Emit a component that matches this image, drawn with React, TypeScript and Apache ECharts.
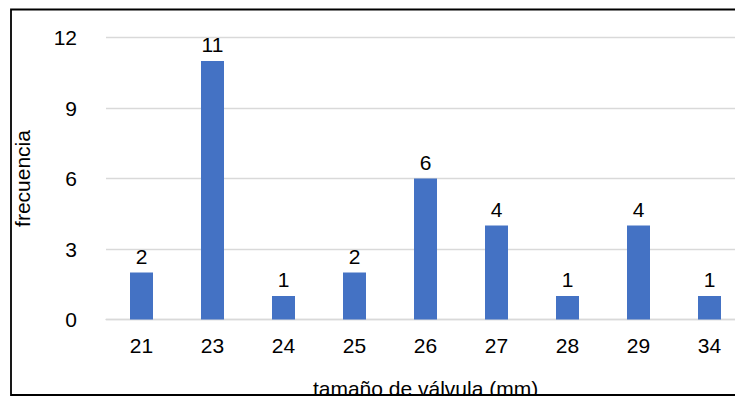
import React, { useEffect, useRef } from "react";
import * as echarts from "echarts";

const categories: string[] = ["21", "23", "24", "25", "26", "27", "28", "29", "34"];
const frecuencia: number[] = [2, 11, 1, 2, 6, 4, 1, 4, 1];
const yTicks = { min: 0, max: 12, interval: 3 };

const FONT = "'Liberation Sans', Arial, Helvetica, sans-serif";

export default function App() {
  const ref = useRef<HTMLDivElement>(null);
  useEffect(() => {
    if (!ref.current) return;
    const chart = echarts.init(ref.current, null, { renderer: "svg" });
    chart.setOption({
      animation: false,
      backgroundColor: "#ffffff",
      textStyle: { fontFamily: FONT },
      grid: {
        left: 106,
        top: 37.5,
        width: 639,
        bottom: 76.5,
        containLabel: false,
        outerBoundsMode: "none",
      },
      xAxis: {
        type: "category",
        data: categories,
        axisTick: { show: false },
        axisLine: { lineStyle: { color: "#d9d9d9", width: 1.3 } },
        axisLabel: { color: "#000", fontSize: 21, margin: 15, fontFamily: FONT },
        name: "tamaño de válvula (mm)",
        nameLocation: "middle",
        nameGap: 58,
        nameTextStyle: { color: "#000", fontSize: 21, fontFamily: FONT },
      },
      yAxis: {
        type: "value",
        min: yTicks.min,
        max: yTicks.max,
        interval: yTicks.interval,
        axisLine: { show: false },
        axisTick: { show: false },
        splitLine: { lineStyle: { color: "#d9d9d9", width: 1.3 } },
        axisLabel: { color: "#000", fontSize: 21, margin: 29, fontFamily: FONT },
        name: "frecuencia",
        nameLocation: "middle",
        nameGap: 73,
        nameTextStyle: { color: "#000", fontSize: 21, fontFamily: FONT },
      },
      series: [
        {
          type: "bar",
          data: frecuencia,
          barWidth: 23,
          itemStyle: { color: "#4472C4" },
          label: {
            show: true,
            position: "top",
            distance: 6,
            color: "#000",
            fontSize: 21,
            fontFamily: FONT,
          },
        },
      ],
      graphic: [
        {
          type: "rect",
          silent: true,
          z: 100,
          shape: { x: 11, y: 9.5, width: 800, height: 385.5 },
          style: { fill: "none", stroke: "#000", lineWidth: 1.8 },
        },
      ],
    });
    return () => chart.dispose();
  }, []);
  return (
    <div
      ref={ref}
      style={{ position: "absolute", left: 0, top: 0, width: 735, height: 396 }}
    />
  );
}
